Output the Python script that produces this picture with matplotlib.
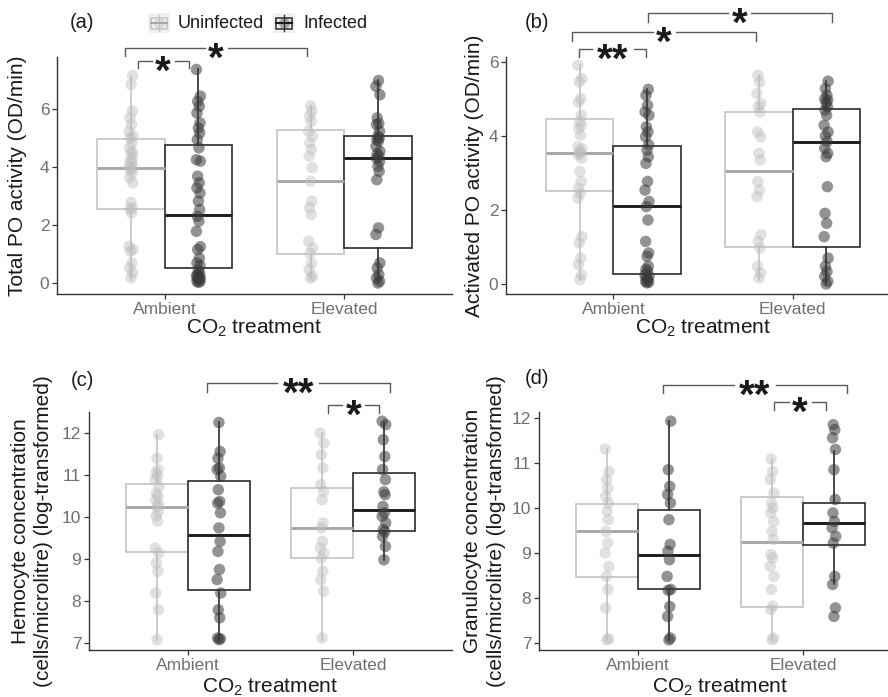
import numpy as np
import matplotlib.pyplot as plt
from matplotlib.patches import Rectangle
from matplotlib.lines import Line2D

plt.rcParams['font.family'] = ['Liberation Sans', 'DejaVu Sans']
plt.rcParams['mathtext.fontset'] = 'custom'
plt.rcParams['mathtext.rm'] = 'Liberation Sans'
plt.rcParams['mathtext.it'] = 'Liberation Sans:italic'

treatments = ['Ambient', 'Elevated']
infection = ['Uninfected', 'Infected']

# (a) total PO activity, points per group
a_unf_amb = [0.17, 0.35, 0.52, 0.69, 1.09, 1.15, 1.26, 2.41, 2.55, 2.59, 2.78, 3.45, 3.62, 3.79,
             3.9, 3.97, 4.0, 4.14, 4.2, 4.31, 4.48, 4.5, 4.66, 4.83, 5.0, 5.06, 5.23, 5.46, 5.69,
             5.92, 6.84, 7.15]
a_inf_amb = [0.02, 0.05, 0.06, 0.11, 0.15, 0.17, 0.23, 0.25, 0.29, 0.34, 0.45, 0.6, 0.69, 0.86,
             1.15, 1.25, 1.78, 2.13, 2.30, 2.53, 2.82, 3.10, 3.28, 3.45, 3.68, 4.2, 4.25, 4.66,
             4.94, 5.17, 5.34, 5.52, 5.86, 6.09, 6.26, 6.44, 7.36]
a_unf_elv = [0.17, 0.23, 0.46, 0.69, 1.03, 1.21, 1.44, 2.36, 2.59, 2.82, 3.51, 3.97, 4.37, 4.60,
             4.83, 5.06, 5.23, 5.57, 5.75, 5.92, 6.11]
a_inf_elv = [0.0, 0.06, 0.17, 0.29, 0.52, 0.69, 1.67, 1.90, 3.56, 3.85, 4.02, 4.20, 4.30, 4.37,
             4.45, 4.54, 4.71, 4.9, 4.94, 5.0, 5.06, 5.23, 5.46, 5.5, 5.69, 6.49, 6.78, 6.98]
# box stats, order: uninf-amb, inf-amb, uninf-elv, inf-elv
a_q1 = [2.55, 0.52, 1.01, 1.21]
a_med = [3.97, 2.36, 3.53, 4.32]
a_q3 = [4.97, 4.75, 5.26, 5.06]
a_lo = [0.11, 0.02, 0.17, 0.0]
a_hi = [7.15, 7.36, 6.11, 6.98]

# (b) activated PO activity
b_unf_amb = [0.12, 0.25, 0.52, 0.70, 1.11, 1.28, 2.32, 2.45, 2.59, 2.77, 3.04, 3.40, 3.49, 3.55,
             3.58, 3.65, 3.71, 4.02, 4.20, 4.29, 4.4, 4.56, 4.92, 5.01, 5.46, 5.55, 5.91]
b_inf_amb = [0.03, 0.05, 0.07, 0.12, 0.16, 0.21, 0.25, 0.34, 0.40, 0.48, 0.75, 0.84, 1.15, 1.73,
             2.09, 2.23, 2.54, 2.77, 3.26, 3.44, 3.62, 3.76, 3.98, 4.11, 4.25, 4.56, 4.65, 4.83,
             5.10, 5.26]
b_unf_elv = [0.16, 0.30, 0.48, 0.97, 1.15, 1.33, 2.36, 2.54, 2.77, 3.35, 3.53, 3.98, 4.11, 4.65,
             4.79, 4.88, 5.15, 5.46, 5.64]
b_inf_elv = [0.0, 0.07, 0.21, 0.34, 0.48, 0.70, 1.28, 1.64, 1.91, 2.63, 3.44, 3.53, 3.67, 3.85,
             4.0, 4.11, 4.29, 4.56, 4.7, 4.79, 4.9, 4.97, 5.0, 5.10, 5.28, 5.48]
b_q1 = [2.52, 0.28, 1.01, 0.99]
b_med = [3.53, 2.11, 3.06, 3.83]
b_q3 = [4.46, 3.74, 4.66, 4.72]
b_lo = [0.12, 0.03, 0.12, 0.0]
b_hi = [5.91, 5.26, 5.64, 5.48]

# (c) hemocyte concentration
c_unf_amb = [7.08, 7.79, 8.19, 8.71, 8.90, 9.14, 9.26, 9.90, 10.02, 10.13, 10.25, 10.3, 10.41,
             10.5, 10.57, 10.73, 10.89, 10.97, 11.05, 11.13, 11.40, 11.96]
c_inf_amb = [7.08, 7.10, 7.12, 7.60, 7.79, 8.19, 8.51, 8.75, 9.18, 9.42, 9.74, 10.10, 10.33,
             10.37, 10.65, 10.97, 11.13, 11.17, 11.40, 11.56, 12.25]
c_unf_elv = [7.12, 8.23, 8.51, 8.71, 9.02, 9.14, 9.26, 9.42, 9.74, 9.86, 10.41, 10.61, 10.77,
             11.17, 11.48, 11.76, 12.0]
c_inf_elv = [8.98, 9.30, 9.54, 9.65, 9.70, 9.86, 10.02, 10.1, 10.25, 10.53, 10.6, 10.89, 11.13,
             11.44, 11.84, 12.2, 12.28]
c_q1 = [9.17, 8.27, 9.03, 9.67]
c_med = [10.23, 9.56, 9.73, 10.16]
c_q3 = [10.78, 10.86, 10.68, 11.05]
c_lo = [7.08, 7.08, 7.08, 8.98]
c_hi = [11.96, 12.25, 12.0, 12.25]

# (d) granulocyte concentration
d_unf_amb = [7.07, 7.09, 7.78, 8.19, 8.48, 8.70, 9.0, 9.22, 9.48, 9.74, 9.93, 10.11, 10.26,
             10.44, 10.63, 10.81, 11.31]
d_inf_amb = [7.07, 7.11, 7.59, 7.81, 8.17, 8.19, 8.48, 8.85, 9.04, 9.19, 9.74, 10.11, 10.30,
             10.48, 10.85, 11.93]
d_unf_elv = [7.07, 7.11, 7.74, 7.82, 8.19, 8.48, 8.70, 8.89, 8.96, 9.3, 9.48, 9.70, 9.89, 10.0,
             10.11, 10.33, 10.63, 10.81, 11.09]
d_inf_elv = [7.59, 7.78, 8.30, 8.48, 9.22, 9.37, 9.56, 9.70, 9.89, 10.19, 10.85, 11.30, 11.56,
             11.74, 11.85]
d_q1 = [8.47, 8.19, 7.79, 9.18]
d_med = [9.49, 8.95, 9.24, 9.67]
d_q3 = [10.08, 9.96, 10.24, 10.10]
d_lo = [7.07, 7.07, 7.07, 8.30]
d_hi = [11.31, 11.93, 11.09, 11.27]

W, H = 888, 697
fig = plt.figure(figsize=(W / 100, H / 100), dpi=100)


def fx(x):
    return x / W


def fy(y):
    return 1 - y / H


UNF_EDGE, UNF_MED, UNF_PT = '#c4c4c4', '#a8a8a8', '#bdbdbd'
INF_EDGE, INF_MED, INF_PT = '#2b2b2b', '#1c1c1c', '#3a3a3a'
jit = np.array([0.0, 0.009, -0.008, 0.005, -0.004, 0.011, -0.011, 0.003, -0.006, 0.007])


def draw_panel(ax, groups, q1, med, q3, lo, hi, ylim, yticks):
    pos = [1 - 0.1875, 1 + 0.1875, 2 - 0.1875, 2 + 0.1875]
    for k in range(4):
        inf = k % 2 == 1
        ec = INF_EDGE if inf else UNF_EDGE
        mc = INF_MED if inf else UNF_MED
        pc = INF_PT if inf else UNF_PT
        st = dict(med=med[k], q1=q1[k], q3=q3[k], whislo=lo[k], whishi=hi[k], fliers=[])
        ax.bxp([st], positions=[pos[k]], widths=0.375, showcaps=False, patch_artist=True,
               boxprops=dict(facecolor='white', edgecolor=ec, linewidth=1.2),
               medianprops=dict(color=mc, linewidth=2.1, solid_capstyle='butt'),
               whiskerprops=dict(color=ec, linewidth=1.2))
        vals = np.array(groups[k])
        offs = jit[np.arange(len(vals)) % len(jit)]
        ax.scatter(pos[k] + offs, vals, s=68, color=pc, alpha=0.45 if not inf else 0.55,
                   edgecolors='none', zorder=3)
    ax.set_xlim(0.4, 2.6)
    ax.set_ylim(*ylim)
    ax.set_xticks([1, 2])
    ax.set_xticklabels(treatments)
    ax.set_yticks(yticks)
    for s in ['top', 'right']:
        ax.spines[s].set_visible(False)
    for s in ['left', 'bottom']:
        ax.spines[s].set_color('#333333')
        ax.spines[s].set_linewidth(1.0)
    ax.tick_params(length=3.5, width=0.9, color='#333333', labelcolor='#707070',
                   labelsize=12.5, pad=2)


def bracket(ax, x1, x2, y, tip, label, axw):
    fs = 29
    half = (11.5 if label == '*' else 21.0) * 2.2 / axw
    xm = (x1 + x2) / 2
    kw = dict(color='#5a5a5a', lw=1.0, clip_on=False, zorder=5)
    ax.plot([x1, x1, xm - half], [y - tip, y, y], **kw)
    ax.plot([xm + half, x2, x2], [y, y, y - tip], **kw)
    ax.annotate(label, xy=(xm, y), xytext=(0, -0.57 * fs), textcoords='offset points',
                ha='center', va='baseline', fontsize=fs, color='#1a1a1a', fontweight='bold',
                annotation_clip=False, zorder=6)


ax_a = fig.add_axes([fx(57), fy(294), fx(395), 237 / H])
ax_b = fig.add_axes([fx(506), fy(294), fx(394), 237 / H])
ax_c = fig.add_axes([fx(89), fy(650), fx(363), 238 / H])
ax_d = fig.add_axes([fx(539), fy(650), fx(363), 238 / H])

draw_panel(ax_a, [a_unf_amb, a_inf_amb, a_unf_elv, a_inf_elv], a_q1, a_med, a_q3, a_lo, a_hi,
           (-0.38, 7.79), [0, 2, 4, 6])
draw_panel(ax_b, [b_unf_amb, b_inf_amb, b_unf_elv, b_inf_elv], b_q1, b_med, b_q3, b_lo, b_hi,
           (-0.27, 6.135), [0, 2, 4, 6])
draw_panel(ax_c, [c_unf_amb, c_inf_amb, c_unf_elv, c_inf_elv], c_q1, c_med, c_q3, c_lo, c_hi,
           (6.833, 12.5), [7, 8, 9, 10, 11, 12])
draw_panel(ax_d, [d_unf_amb, d_inf_amb, d_unf_elv, d_inf_elv], d_q1, d_med, d_q3, d_lo, d_hi,
           (6.844, 12.133), [7, 8, 9, 10, 11, 12])

ylabels = ['Total PO activity (OD/min)', 'Activated PO activity (OD/min)',
           'Hemocyte concentration\n(cells/microlitre) (log-transformed)',
           'Granulocyte concentration\n(cells/microlitre) (log-transformed)']
ylab_x = [-0.099, -0.079, -0.157, -0.150]
xlab_y = [-0.146, -0.146, -0.158, -0.158]
for ax, lab, lx, xy in zip([ax_a, ax_b, ax_c, ax_d], ylabels, ylab_x, xlab_y):
    ax.set_ylabel(lab, fontsize=15, color='#1a1a1a', linespacing=1.3)
    ax.yaxis.set_label_coords(lx, 0.5)
    ax.yaxis.label.set_va('center')
    ax.set_xlabel('CO$_2$ treatment', fontsize=15, color='#1a1a1a')
    ax.xaxis.set_label_coords(0.5, xy)
    ax.xaxis.label.set_va('center')

# significance brackets
bracket(ax_a, 0.778, 1.794, 8.1, 0.27, '*', 395)
bracket(ax_a, 0.85, 1.133, 7.66, 0.25, '*', 395)
bracket(ax_b, 1.193, 2.22, 7.32, 0.24, '*', 394)
bracket(ax_b, 0.77, 1.797, 6.81, 0.24, '*', 394)
bracket(ax_b, 0.81, 1.18, 6.35, 0.22, '**', 394)
bracket(ax_c, 1.115, 2.224, 13.19, 0.21, '**', 363)
bracket(ax_c, 1.85, 2.16, 12.67, 0.19, '*', 363)
bracket(ax_d, 1.15, 2.267, 12.73, 0.17, '**', 363)
bracket(ax_d, 1.824, 2.14, 12.36, 0.18, '*', 363)

# panel tags
for tag, (px, py) in zip(['(a)', '(b)', '(c)', '(d)'],
                         [(82, 23), (537, 22), (82, 380), (537, 379)]):
    fig.text(fx(px), fy(py), tag, ha='center', va='center', fontsize=14.5, color='#1a1a1a')

# legend
for name, kx, ec, mc, pc in [(infection[0], 148, UNF_EDGE, UNF_MED, UNF_PT),
                             (infection[1], 273, INF_EDGE, INF_MED, INF_PT)]:
    fig.add_artist(Rectangle((fx(kx), fy(33)), fx(22), 20 / H, transform=fig.transFigure,
                             facecolor='#f0f0f0', edgecolor='none'))
    fig.add_artist(Line2D([fx(kx + 11)] * 2, [fy(31), fy(15)], transform=fig.transFigure,
                          color=ec, lw=1.0))
    fig.add_artist(Line2D([fx(kx + 11)], [fy(23)], transform=fig.transFigure, marker='o',
                          markersize=8, color=pc, alpha=0.4, markeredgecolor='none'))
    fig.add_artist(Rectangle((fx(kx + 3), fy(28.5)), fx(16), 11 / H, transform=fig.transFigure,
                             facecolor='none', edgecolor=ec, lw=1.1))
    fig.add_artist(Line2D([fx(kx + 3), fx(kx + 19)], [fy(23)] * 2, transform=fig.transFigure,
                          color=mc, lw=1.5))
    fig.text(fx(kx + 30), fy(23), name, ha='left', va='center', fontsize=13, color='#1a1a1a')

fig.savefig('out.png', dpi=100)
